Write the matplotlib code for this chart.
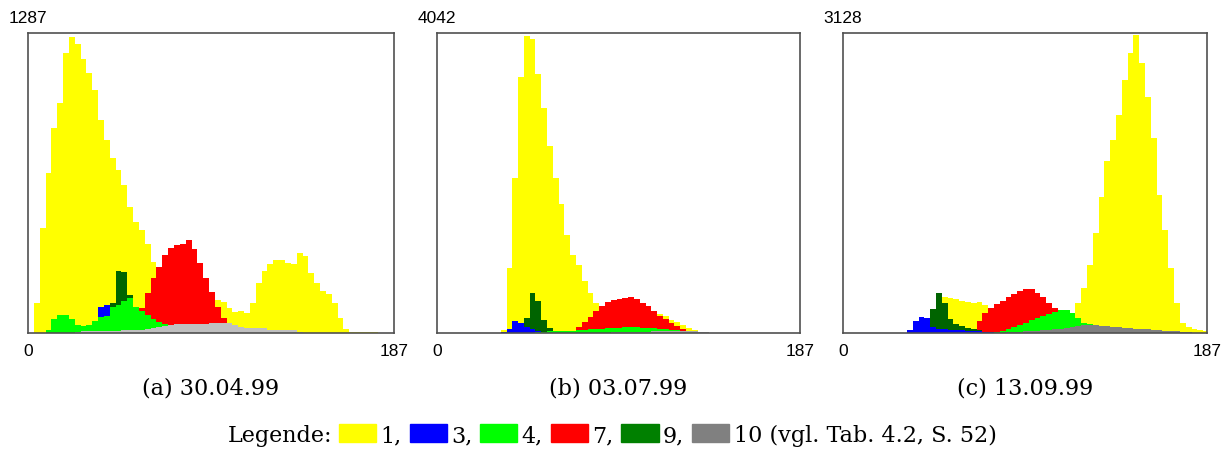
import numpy as np
import matplotlib
matplotlib.use("Agg")
import matplotlib.pyplot as plt
from matplotlib.patches import Patch

# histogram counts, sampled every 3 grey values (0..186), listed from a start bin
STEP = 3
NBINS = 63
classes = ["1", "3", "4", "7", "9", "10"]
colors = ["#ffff00", "#0000ff", "#00ff00", "#ff0000", "#006400", "#808080"]
legend_colors = ["#ffff00", "#0000ff", "#00ff00", "#ff0000", "#008000", "#808080"]
# back to front: 1, 7, 9, 3, 4, 10
draw_order = [0, 3, 4, 1, 2, 5]

# (a) 30.04.99
ymax_a = 1287
yellow_a = (0, [0, 129, 450, 686, 879, 987, 1201, 1270, 1240, 1175, 1115, 1042, 914, 828, 751,
                699, 635, 541, 476, 442, 382, 305, 236, 215, 197, 184, 172, 163, 154, 150,
                146, 142, 142, 133, 107, 90, 94, 86, 129, 215, 266, 296, 313, 313, 300,
                296, 343, 330, 257, 215, 180, 167, 129, 64, 17, 4, 4, 4, 4, 4])
blue_a = (36, [112, 120])
lgreen_a = (9, [13, 60, 77, 77, 60, 34, 30, 34, 51, 69, 73, 112, 120, 137, 150, 112, 94, 77,
                60, 47, 39, 30, 21, 13])
red_a = (57, [107, 172, 236, 283, 335, 365, 378, 382, 399, 360, 300, 236, 176, 112, 64,
              39, 17, 9])
dgreen_a = (42, [129, 266, 262, 165])
gray_a = (24, [4, 9, 9, 9, 9, 9, 9, 9, 13, 13, 13, 13, 17, 21, 26, 30, 34, 39, 39, 39, 39,
               39, 39, 43, 43, 43, 43, 34, 26, 21, 21, 21, 21, 13, 13, 13, 13, 13, 4])

# (b) 03.07.99
ymax_b = 4042
yellow_b = (33, [40, 878, 2093, 3443, 3996, 3956, 3483, 3038, 2525, 2093, 1742, 1323, 1053,
                 918, 702, 540, 405, 324, 297, 284, 284, 284, 270, 270, 270, 270, 270, 257,
                 230, 176, 149, 108, 68, 40, 14])
blue_b = (33, [14, 54, 162, 135, 81, 54, 27])
lgreen_b = (51, [14, 14, 27, 27, 27, 27, 27, 41, 41, 54, 54, 54, 68, 68, 68, 81, 81, 81, 68,
                 68, 68, 54, 54, 41, 41, 27, 14])
red_b = (72, [81, 149, 216, 297, 365, 419, 446, 459, 473, 486, 459, 405, 365, 297, 230, 189,
              135, 95, 54, 27])
dgreen_b = (45, [203, 540, 432, 176, 68])
gray_b = (90, [14, 14, 14, 14, 14, 14, 14, 27, 27, 27, 27, 27, 27, 27, 27, 14, 14])

# (c) 13.09.99
ymax_c = 3128
yellow_c = (51, [375, 365, 355, 334, 323, 313, 323, 292] + [0] * 15 +
            [313, 469, 709, 1043, 1418, 1794, 2013, 2274, 2639, 2920, 3108, 2816, 2461,
             2034, 1439, 1074, 678, 313, 104, 63, 42, 31, 21])
blue_c = (33, [31, 125, 167, 156, 63, 42, 42, 31, 31, 31, 21, 21, 21, 10, 10, 10])
lgreen_c = (78, [10, 21, 42, 63, 83, 104, 136, 156, 177, 198, 219, 240, 240, 209, 156, 104, 94])
red_c = (66, [31, 125, 209, 261, 302, 334, 375, 407, 438, 459, 459, 417, 375, 313, 261, 209])
dgreen_c = (45, [250, 417, 313, 146, 94, 73, 52, 42, 31])
gray_c = (84, [10, 10, 10, 21, 21, 21, 31, 31, 42, 42, 52, 63, 73, 83, 83, 83, 73, 73, 63, 63,
               52, 52, 42, 42, 42, 31, 31, 21, 21, 21, 10, 10])

panels = [
    ("(a) 30.04.99", ymax_a, [yellow_a, blue_a, lgreen_a, red_a, dgreen_a, gray_a], "#c0c0c0"),
    ("(b) 03.07.99", ymax_b, [yellow_b, blue_b, lgreen_b, red_b, dgreen_b, gray_b], "#a8a8a8"),
    ("(c) 13.09.99", ymax_c, [yellow_c, blue_c, lgreen_c, red_c, dgreen_c, gray_c], "#808080"),
]


def full(series):
    start, vals = series
    arr = np.zeros(NBINS)
    i = start // STEP
    arr[i:i + len(vals)] = vals
    return arr


fig = plt.figure(figsize=(12.28, 4.52), dpi=100)
boxes = [(28, 366), (437, 363), (843, 364)]
edges = np.arange(NBINS + 1) * STEP

for (caption, ymax, series, graycol), (x0, w) in zip(panels, boxes):
    ax = fig.add_axes([x0 / 1228, 1 - 334 / 452, w / 1228, 300 / 452])
    cols = colors[:-1] + [graycol]
    for k in draw_order:
        ax.stairs(full(series[k]), edges, fill=True, color=cols[k], lw=0)
    ax.set_xlim(0, 188)
    ax.set_ylim(0, ymax)
    ax.set_xticks([])
    ax.set_yticks([])
    for sp in ax.spines.values():
        sp.set_color("#505050")
        sp.set_linewidth(1.2)
    ax.text(0, 1.027, str(ymax), transform=ax.transAxes, ha="center", va="bottom",
            fontsize=12.5, family="Liberation Sans")
    ax.text(0, -0.035, "0", transform=ax.transAxes, ha="center", va="top",
            fontsize=12.5, family="Liberation Sans")
    ax.text(1, -0.035, "187", transform=ax.transAxes, ha="center", va="top",
            fontsize=12.5, family="Liberation Sans")
    fig.text((x0 + w / 2) / 1228, 1 - 389 / 452, caption, ha="center", va="center",
             fontsize=16, family="DejaVu Serif")

fig.text(332 / 1228, 1 - 436 / 452, "Legende:", ha="right", va="center",
         fontsize=16, family="DejaVu Serif")
labels = ["1,", "3,", "4,", "7,", "9,", "10 (vgl. Tab. 4.2, S. 52)"]
handles = [Patch(color=c) for c in legend_colors]
fig.legend(handles, labels, loc="center left", bbox_to_anchor=(339 / 1228, 1 - 436 / 452),
           ncol=6, frameon=False, borderpad=0, borderaxespad=0,
           handlelength=1.67, handleheight=0.86, handletextpad=0.2, columnspacing=0.35,
           prop={"family": "DejaVu Serif", "size": 16})

fig.savefig("out.png", dpi=100, facecolor="white")
